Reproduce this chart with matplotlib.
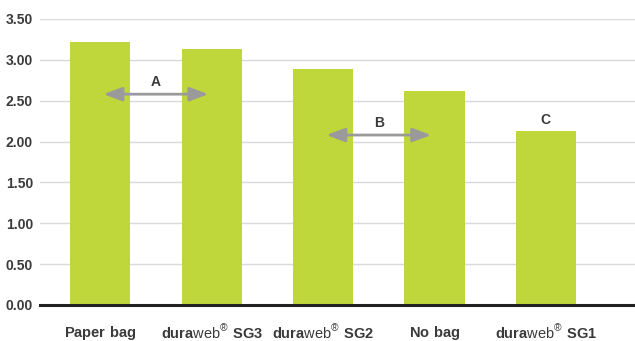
import matplotlib
matplotlib.use('Agg')
import matplotlib.pyplot as plt

# bar data
categories = [r'$\mathbf{Paper\ bag}$',
              r'$\mathbf{dura}\mathrm{web}^{\mathrm{®}}\ \mathbf{SG3}$',
              r'$\mathbf{dura}\mathrm{web}^{\mathrm{®}}\ \mathbf{SG2}$',
              r'$\mathbf{No\ bag}$',
              r'$\mathbf{dura}\mathrm{web}^{\mathrm{®}}\ \mathbf{SG1}$']
values = [3.22, 3.13, 2.89, 2.62, 2.13]
yticks = [0.0, 0.5, 1.0, 1.5, 2.0, 2.5, 3.0, 3.5]

# significance groups: (label, start bar, end bar, y)
groups = [('A', 0, 1, 2.58), ('B', 2, 3, 2.08)]
single_label = ('C', 4, 2.26)

plt.rcParams['font.family'] = ['Liberation Sans', 'DejaVu Sans']
plt.rcParams['mathtext.fontset'] = 'custom'
plt.rcParams['mathtext.rm'] = 'Liberation Sans'
plt.rcParams['mathtext.bf'] = 'Liberation Sans:bold'

text_col = '#3a3a3a'
bar_col = '#bfd73b'
arrow_col = '#9a9a9c'

fig = plt.figure(figsize=(6.35, 3.41), dpi=100)
ax = fig.add_axes([40 / 635, 36 / 341, 595 / 635, (305 - 19) / 341])

x = list(range(len(categories)))
ax.bar(x, values, width=0.54, color=bar_col, zorder=2)

ax.set_xlim(-0.54, 4.8)
ax.set_ylim(0, 3.5)
ax.set_yticks(yticks)
ax.set_yticklabels(['%.2f' % v for v in yticks], fontsize=10, fontweight='bold', color=text_col)

ax.set_xticks(x)
ax.set_xticklabels(categories, fontsize=10.5, color=text_col)
for lbl in ax.get_xticklabels():
    lbl.set_verticalalignment('baseline')
ax.tick_params(axis='both', length=0)
ax.tick_params(axis='y', pad=5)
ax.tick_params(axis='x', pad=23)
# mathtext without descenders sits a bit high on 'baseline', push those down
for tick, name in zip(ax.xaxis.get_major_ticks(), categories):
    if 'dura' in name:
        tick.set_pad(24)

ax.grid(axis='y', color='#d9d9d9', linewidth=1.0, zorder=0)
for s in ['top', 'right', 'left']:
    ax.spines[s].set_visible(False)
ax.spines['bottom'].set_color('#222222')
ax.spines['bottom'].set_linewidth(2.2)
ax.spines['bottom'].set_zorder(3)

for lab, a, b, y in groups:
    ax.annotate('', xy=(b - 0.03, y), xytext=(a + 0.03, y),
                arrowprops=dict(arrowstyle='<|-|>,head_length=0.8,head_width=0.3',
                                color=arrow_col, lw=2.0,
                                mutation_scale=14, shrinkA=0, shrinkB=0),
                zorder=4)
    ax.text((a + b) / 2, y + 0.06, lab, ha='center', va='bottom',
            fontsize=10, fontweight='bold', color=text_col, zorder=4)

lab, i, y = single_label
ax.text(i, y, lab, ha='center', va='center', fontsize=10, fontweight='bold', color=text_col)

fig.savefig('out.png', dpi=100)
plt.close(fig)
